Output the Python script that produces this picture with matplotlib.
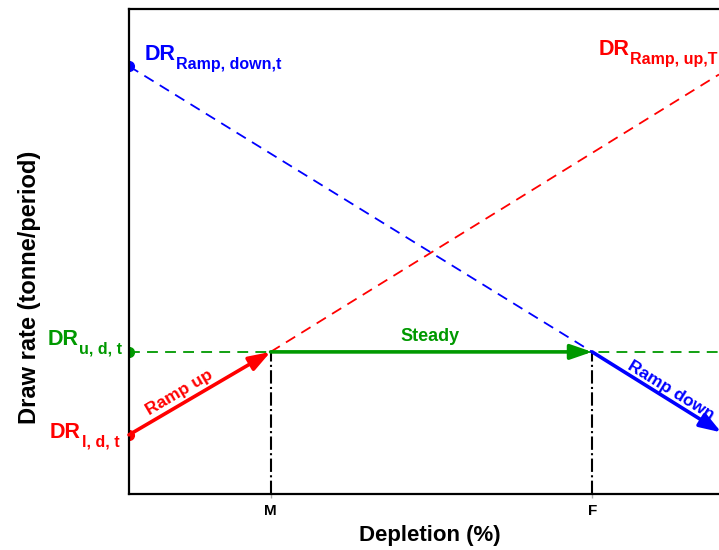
import matplotlib.pyplot as plt

plt.rcParams['font.family'] = ['Liberation Sans', 'DejaVu Sans']
plt.rcParams['font.weight'] = 'bold'

# depletion (%) at the end of ramp up (M) and start of ramp down (F)
depletion_ticks = [24, 78.5]
tick_labels = ['M', 'F']

# draw rates (tonne/period)
dr_low = 12.2          # DR l,d,t at start
dr_steady = 29.3       # DR u,d,t
dr_down_start = 88.2   # DR Ramp,down,t at zero depletion
dr_up_end = 86.5       # DR Ramp,up,T at full depletion
dr_down_end = 13.0     # ramp down line at full depletion

x_max = 100
M, F = depletion_ticks
GREEN = '#009900'

fig = plt.figure(figsize=(7.19, 5.5), dpi=100)
ax = fig.add_axes([129 / 719, 56 / 550, 1 - 129 / 719, 485 / 550])
ax.set_xlim(0, x_max)
ax.set_ylim(0, 100)

# dashed guide lines
ax.plot([0, x_max], [dr_steady, dr_steady], color=GREEN, ls=(0, (6, 4)), lw=1.3)
ax.plot([M, x_max], [dr_steady, dr_up_end], color='red', ls=(0, (6, 4)), lw=1.3)
ax.plot([0, F], [dr_down_start, dr_steady], color='blue', ls=(0, (6, 4)), lw=1.3)

# vertical markers
for xv in depletion_ticks:
    ax.plot([xv, xv], [0, dr_steady], color='black', ls='-.', lw=1.5)

# phase arrows
arrow_style = dict(arrowstyle='-|>,head_length=1.3,head_width=0.45', lw=2.6,
                   shrinkA=0, shrinkB=0)
ax.annotate('', xy=(M, dr_steady), xytext=(0, dr_low),
            arrowprops=dict(color='red', **arrow_style))
ax.annotate('', xy=(F, dr_steady), xytext=(M, dr_steady),
            arrowprops=dict(color=GREEN, **arrow_style))
ax.annotate('', xy=(x_max + 0.4, dr_down_end - 0.3), xytext=(F, dr_steady),
            arrowprops=dict(color='blue', **arrow_style), annotation_clip=False)

# points on the y axis (half hidden behind the spine)
ax.plot([0], [dr_low], 'o', color='red', ms=7, zorder=1)
ax.plot([0], [dr_steady], 'o', color=GREEN, ms=7, zorder=1)
ax.plot([0], [dr_down_start], 'o', color='blue', ms=7, zorder=1)


def sub_label(x, y, main, sub, color):
    t = ax.text(x, y, main, color=color, fontsize=15.5, ha='left', va='baseline',
                clip_on=False)
    ax.annotate(sub, xy=(1, 0), xycoords=t, xytext=(0.5, -2.6),
                textcoords='offset points', color=color, fontsize=11.5,
                ha='left', va='baseline', annotation_clip=False)


sub_label(-13.8, 30.7, 'DR', 'u, d, t', GREEN)
sub_label(-13.4, 11.5, 'DR', 'l, d, t', 'red')
sub_label(2.7, 89.5, 'DR', 'Ramp, down,t', 'blue')
sub_label(79.6, 90.5, 'DR', 'Ramp, up,T', 'red')

ax.text(51, 32.4, 'Steady', color=GREEN, fontsize=13, ha='center', va='center')
ax.text(8.5, 21.0, 'Ramp up', color='red', fontsize=12.5,
        ha='center', va='center', rotation=30.5, rotation_mode='anchor')
ax.text(91.8, 21.4, 'Ramp down', color='blue', fontsize=12.5,
        ha='center', va='center', rotation=-31.7, rotation_mode='anchor')

ax.set_xticks(depletion_ticks)
ax.set_xticklabels(tick_labels, fontsize=11, fontweight='bold')
ax.set_yticks([])
ax.tick_params(axis='x', length=3, width=1, color='#aaaaaa', pad=4)

for side in ['left', 'top', 'bottom']:
    ax.spines[side].set_linewidth(1.6)
ax.spines['right'].set_visible(False)

ax.set_xlabel('Depletion (%)', fontsize=16, fontweight='bold')
ax.xaxis.set_label_coords((430 - 129) / 590, -(525 - 494) / 485)
ax.set_ylabel('Draw rate (tonne/period)', fontsize=17, fontweight='bold')
ax.yaxis.set_label_coords(-(129 - 41) / 590, (494 - 287) / 485)

fig.savefig('out.png', dpi=100)
